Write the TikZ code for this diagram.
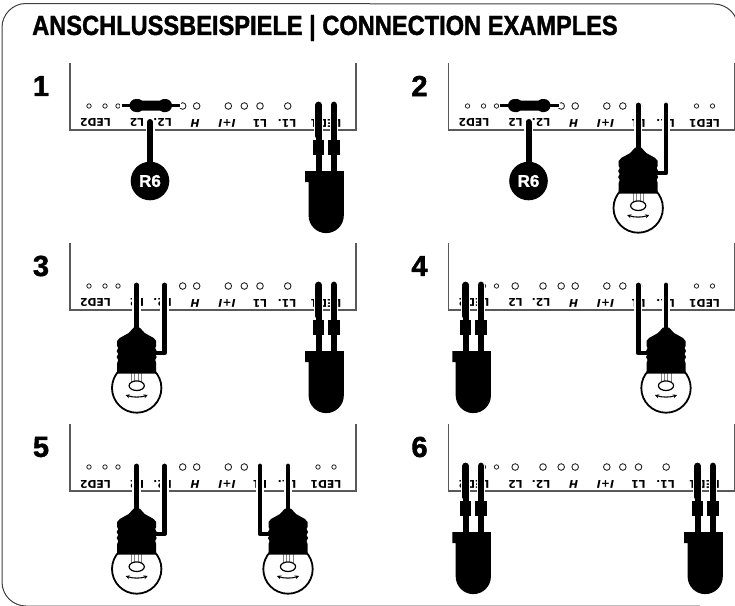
\documentclass[tikz,border=0pt]{standalone}
\usepackage{fontspec}
\setmainfont{Liberation Sans}
\newfontfamily\labfont{DejaVu Sans}
\newfontfamily\heavyfont[BoldFeatures={FakeBold=1.6}]{Liberation Sans}
\usetikzlibrary{arrows.meta}
\definecolor{framegray}{gray}{0.35}
\tikzset{
  x=1pt,y=1pt,
  frameline/.style={draw=framegray,line width=1.1pt},
  holesmall/.style={draw=black!85,line width=.8pt,fill=white},
  holebig/.style={draw=black!85,line width=.9pt,fill=white},
  termlabel/.style={inner sep=0pt,rotate=180,font=\labfont\bfseries\fontsize{10.8}{10.8}\selectfont,text=black},
  halo/.style={draw=white,line width=8.5pt,line cap=round},
  wirel/.style={draw=black,line width=4.8pt,line cap=round,line join=round},
  legthin/.style={draw=black,line width=6pt},
  legtop/.style={draw=black,line width=6.8pt,line cap=round},
  legthick/.style={draw=black,line width=11.5pt},
  solidblack/.style={fill=black,draw=none},
  numlabel/.style={inner sep=0pt,font=\heavyfont\bfseries\fontsize{29}{29}\selectfont},
  titlelabel/.style={inner sep=0pt,anchor=west,font=\heavyfont\bfseries\fontsize{25}{25}\selectfont},
}
% base of a connection panel: #1 panel id, #2 digit
\newcommand{\PanelBase}[2]{%
  \draw[frameline] (0,-67) -- (0,0) -- (286,0) -- (286,-67);
  \node[numlabel] (num#1) at (-29,-44) {#2};
  \foreach \hx in {19,35,48,248,264} {\draw[holesmall] (\hx,-24) circle (2.2);}
  \foreach \hx in {66.7,94.5,112.7,126.7,158.3,174.3,190,217.7} {\draw[holebig] (\hx,-24) circle (3.3);}
  \node[termlabel] (led2#1) at (25.5,-7) {LED2};
  \node[termlabel] (ltwo#1) at (67,-7) {L2};
  \node[termlabel] (ltwop#1) at (92.5,-7) {L2.};
  \node[termlabel] (hh#1) at (125,-7) {\itshape H};
  \node[termlabel] (hp#1) at (157,-7) {\itshape I+I};
  \node[termlabel] (lone#1) at (190,-7) {L1};
  \node[termlabel] (lonep#1) at (217,-7) {L1.};
  \node[termlabel] (led1#1) at (256,-7) {LED1};
}
% LED at centre x
\newcommand{\LedAt}[1]{%
  \begin{scope}[shift={(#1,0)}]
    \foreach \s in {-7.7,7.7} {
      \draw[halo] (\s,-25) -- (\s,8);
    }
    \foreach \s in {-7.7,7.7} {
      \draw[legtop] (\s,-25) -- (\s,6);
      \draw[legthin] (\s,6) -- (\s,42);
      \draw[legthick] (\s,10) -- (\s,25);
    }
    \fill[solidblack] (-21,41) -- (17.6,41) -- (17.6,85.5) arc[start angle=0,end angle=180,radius=17.6]
       -- (-17.6,52) -- (-21,52) -- cycle;
  \end{scope}
}
% bulb: #1 centre x, #2 x of the side wire
\newcommand{\BulbAt}[2]{%
  \draw[halo] (#1,-25) -- (#1,10);
  \draw[halo] (#2,-25) -- (#2,10);
  \begin{scope}[shift={(#1,0)}]
    \draw[line width=1.8pt,fill=white] (0,78) circle (24.7);
    \draw[gray,line width=.9pt] (-5,62) -- (-5,72) (-1.8,62) -- (-1.8,71) (1.8,62) -- (1.8,71) (5,62) -- (5,72);
    \draw[line width=1.2pt,fill=white] (0,75.7) ellipse (7.6 and 4.8);
    \draw[line width=1.1pt,{Stealth[length=4pt,width=4pt]}-{Stealth[length=4pt,width=4pt]}]
      (-11,85) .. controls (-4,87.5) and (4,87.5) .. (11,85);
    \fill[solidblack] (-3,17.5) -- (3,17.5) -- (8,23) -- (17,28) -- (19.5,31) -- (19.5,36) -- (18.5,38) -- (20,41) -- (18.5,44) -- (20,47)
      -- (18.5,50) -- (19.5,53) -- (19.5,63.5) -- (-19.5,63.5) -- (-19.5,53) -- (-18.5,50) -- (-20,47) -- (-18.5,44)
      -- (-20,41) -- (-18.5,38) -- (-19.5,36) -- (-19.5,31) -- (-17,28) -- (-8,23) -- cycle;
  \end{scope}
  \draw[wirel] (#1,-25) -- (#1,20);
  \draw[wirel] (#2,-25) -- (#2,43) -- (#1,43);
}
% resistor with R6 tag: #1 panel id
\newcommand{\ResistorRsix}[1]{%
  \draw[draw=white,line width=5.5pt] (50,-24.5) -- (111,-24.5);
  \draw[draw=black,line width=2.6pt] (51.5,-24.5) -- (110,-24.5);
  \fill[solidblack] (66,-31) -- (69,-31) -- (72,-29.5) -- (90,-29.5) -- (93,-31) -- (95.5,-31)
     arc[start angle=-90,end angle=90,radius=6.5] -- (93,-18) -- (90,-19.5) -- (72,-19.5) -- (69,-18) -- (66,-18)
     arc[start angle=90,end angle=270,radius=6.5] -- cycle;
  \draw[draw=white,line width=9pt,line cap=round] (80,-8) -- (80,20);
  \draw[draw=black,line width=6pt,line cap=round] (80,-8) -- (80,40);
  \node[circle,fill=black,minimum size=38.6pt,inner sep=0pt,text=white,font=\heavyfont\bfseries\fontsize{17}{17}\selectfont] (rsix#1) at (80,51) {R6};
}
\begin{document}
\begin{tikzpicture}[y=-1pt,x=1pt]
\useasboundingbox (0,0) rectangle (735,605);
\fill[white] (0,0) rectangle (735,605);
\begin{scope}
\clip (0,0) rectangle (735,605);
\draw[draw=black!75,line width=1pt] (738,28) arc[start angle=0,end angle=-90,radius=24] -- (26,3.5)
  arc[start angle=-90,end angle=-180,radius=24] -- (2,582)
  arc[start angle=180,end angle=90,radius=24] -- (700,606);
\end{scope}
\node[titlelabel] (title) at (32,28) {\scalebox{0.945}[1.1]{ANSCHLUSSBEISPIELE | CONNECTION EXAMPLES}};
\begin{scope}[shift={(70,130)}]
  \PanelBase{a}{1}\ResistorRsix{a}\LedAt{256.2}
\end{scope}
\begin{scope}[shift={(448.5,130)}]
  \PanelBase{b}{2}\ResistorRsix{b}\BulbAt{189.7}{217.5}
\end{scope}
\begin{scope}[shift={(70,310)}]
  \PanelBase{c}{3}\BulbAt{66.7}{94.5}\LedAt{256.2}
\end{scope}
\begin{scope}[shift={(448.5,310)}]
  \PanelBase{d}{4}\LedAt{24.8}\BulbAt{217.5}{189.7}
\end{scope}
\begin{scope}[shift={(70,491)}]
  \PanelBase{e}{5}\BulbAt{66.7}{94.5}\BulbAt{218}{190}
\end{scope}
\begin{scope}[shift={(448.5,491)}]
  \PanelBase{f}{6}\LedAt{24.8}\LedAt{256.7}
\end{scope}
\end{tikzpicture}
\end{document}
